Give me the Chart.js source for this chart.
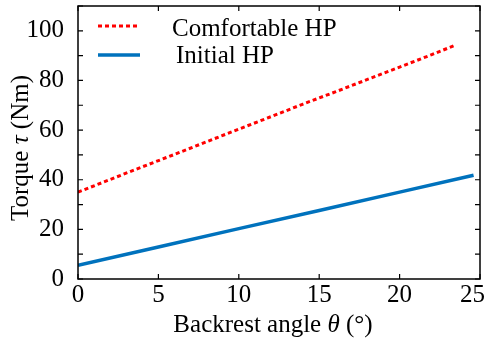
<!DOCTYPE html>
<html>
<head>
<meta charset="utf-8">
<script src="https://cdn.jsdelivr.net/npm/chart.js@4"></script>
<style>
  html, body { margin: 0; padding: 0; background: #fff; }
  #wrap { width: 486px; height: 339px; }
</style>
</head>
<body>
<div id="wrap"><canvas id="canvas-line" width="486" height="339"></canvas></div>
<script>
// angles (deg) and torque values
var comfortAngles = [0, 2, 4, 6, 8, 10, 12, 14, 16, 18, 20, 22, 23.5]
var comfortTorque = [35, 40.1, 45.2, 50.2, 55.3, 60.4, 65.4, 70.5, 75.4, 80.4, 85.4, 90.4, 94.3]
var initialAngles = [0, 5, 10, 15, 20, 24.6]
var initialTorque = [5.5, 12.9, 20.3, 27.6, 35, 41.8]
var xTicks = [0, 5, 10, 15, 20, 25]
var yTicks = [0, 20, 40, 60, 80, 100]
var legendLabels = ['Comfortable HP', 'Initial HP']

var serif = '"Liberation Serif", "Times New Roman", serif'

function pts(xs, ys) {
  return xs.map(function (x, i) { return { x: x, y: ys[i] } })
}

// frame, inward ticks, x labels, legend and axis titles
var decor = {
  id: 'decor',
  afterDraw: function (chart) {
    var ctx = chart.ctx
    var a = chart.chartArea
    var sx = chart.scales.x
    var sy = chart.scales.y
    ctx.save()
    ctx.strokeStyle = '#000'
    ctx.lineWidth = 1.5
    ctx.strokeRect(a.left, a.top, a.right - a.left, a.bottom - a.top)
    ctx.lineWidth = 1.2
    ctx.beginPath()
    for (var v = 0; v <= 25; v += 5) {
      var px = sx.getPixelForValue(v)
      ctx.moveTo(px, a.bottom); ctx.lineTo(px, a.bottom - 5)
      ctx.moveTo(px, a.top); ctx.lineTo(px, a.top + 5)
    }
    for (var w = 0; w <= 110; w += 10) {
      var py = sy.getPixelForValue(w)
      ctx.moveTo(a.left, py); ctx.lineTo(a.left + 5, py)
      ctx.moveTo(a.right, py); ctx.lineTo(a.right - 5, py)
    }
    ctx.stroke()

    // x tick labels, kept inside the canvas
    ctx.fillStyle = '#000'
    ctx.font = '25px ' + serif
    ctx.textBaseline = 'alphabetic'
    ctx.textAlign = 'center'
    xTicks.forEach(function (t) {
      var lbl = String(t)
      var half = ctx.measureText(lbl).width / 2
      var x = Math.min(sx.getPixelForValue(t), chart.width - 1 - half)
      ctx.fillText(lbl, x, 302)
    })

    // legend
    ctx.lineWidth = 3
    ctx.strokeStyle = '#ff0000'
    ctx.setLineDash([4, 3])
    ctx.beginPath(); ctx.moveTo(98, 26); ctx.lineTo(140, 26); ctx.stroke()
    ctx.setLineDash([])
    ctx.strokeStyle = '#0072bd'
    ctx.lineWidth = 3.5
    ctx.beginPath(); ctx.moveTo(98, 55); ctx.lineTo(140, 55); ctx.stroke()
    ctx.textAlign = 'left'
    ctx.fillText(legendLabels[0], 172, 36)
    ctx.fillText(legendLabels[1], 176, 63)

    // x title with italic theta
    var f1 = '25px ' + serif, f2 = 'italic 25px ' + serif
    var parts = [['Backrest angle ', f1], ['\u03b8', f2], [' (\u00b0)', f1]]
    var tot = 0
    parts.forEach(function (p) { ctx.font = p[1]; tot += ctx.measureText(p[0]).width })
    var cx = (a.left + a.right) / 2 - tot / 2 - 6
    parts.forEach(function (p) { ctx.font = p[1]; ctx.fillText(p[0], cx, 332); cx += ctx.measureText(p[0]).width })

    // y title, rotated
    var yparts = [['Torque ', f1], ['\u03c4', f2], [' (Nm)', f1]]
    tot = 0
    yparts.forEach(function (p) { ctx.font = p[1]; tot += ctx.measureText(p[0]).width })
    ctx.translate(28, 148)
    ctx.rotate(-Math.PI / 2)
    var cy = -tot / 2
    yparts.forEach(function (p) { ctx.font = p[1]; ctx.fillText(p[0], cy, 0); cy += ctx.measureText(p[0]).width })
    ctx.restore()
  }
}

window.addEventListener('DOMContentLoaded', function () {
  var ctx = document.getElementById('canvas-line').getContext('2d')
  new Chart(ctx, {
    type: 'scatter',
    data: {
      datasets: [
        {
          label: legendLabels[0],
          data: pts(comfortAngles, comfortTorque),
          showLine: true,
          borderColor: '#ff0000',
          borderWidth: 3,
          borderDash: [4, 3],
          pointRadius: 0,
          tension: 0
        },
        {
          label: legendLabels[1],
          data: pts(initialAngles, initialTorque),
          showLine: true,
          borderColor: '#0072bd',
          borderWidth: 3.5,
          pointRadius: 0,
          tension: 0
        }
      ]
    },
    options: {
      responsive: false,
      animation: false,
      layout: { padding: { top: 6, right: 6, left: 0, bottom: 0 } },
      scales: {
        x: {
          type: 'linear',
          min: 0,
          max: 25,
          afterFit: function (s) { s.height = 60; s.paddingLeft = 0; s.paddingRight = 0 },
          afterBuildTicks: function (s) { s.ticks = xTicks.map(function (v) { return { value: v } }) },
          grid: { display: false },
          border: { display: false },
          ticks: { display: false }
        },
        y: {
          min: 0,
          max: 110,
          afterFit: function (s) { s.width = 78; s.paddingTop = 0; s.paddingBottom = 0 },
          afterBuildTicks: function (s) { s.ticks = yTicks.map(function (v) { return { value: v } }) },
          grid: { display: false },
          border: { display: false },
          ticks: { color: '#000', padding: 6, font: { family: serif, size: 25 } }
        }
      },
      plugins: {
        legend: false,
        tooltip: { enabled: false }
      }
    },
    plugins: [decor]
  })
})
</script>
</body>
</html>
